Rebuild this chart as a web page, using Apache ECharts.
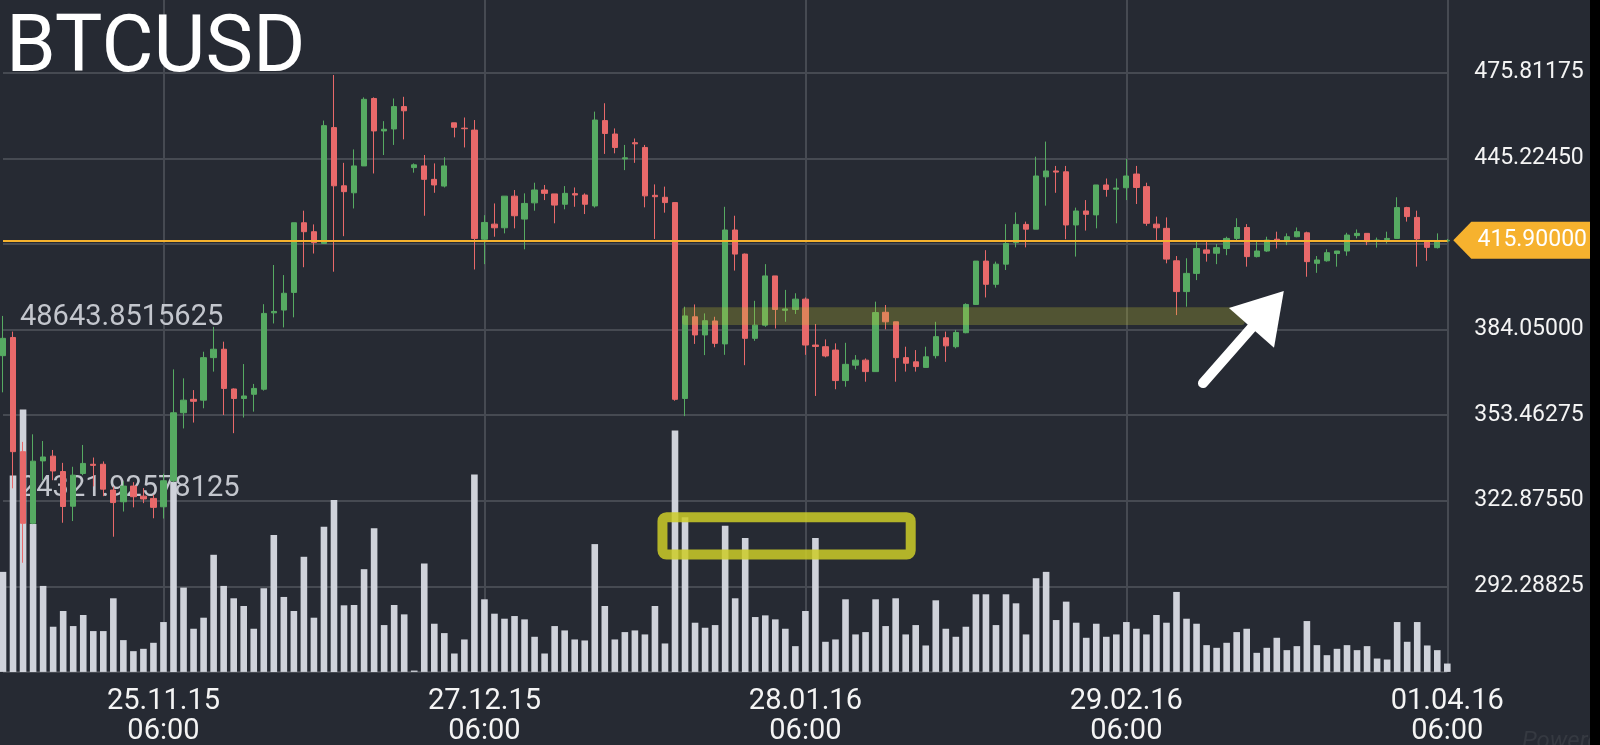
<!DOCTYPE html>
<html><head><meta charset="utf-8">
<script src="https://cdn.jsdelivr.net/npm/echarts@6/dist/echarts.min.js"></script>
<style>html,body{margin:0;padding:0;background:#262a33;}#c{width:1600px;height:745px;}</style>
</head><body><div id="c"></div>
<script>
const categories = [
'09.11.15','10.11.15','11.11.15','12.11.15','13.11.15','14.11.15','15.11.15','16.11.15','17.11.15','18.11.15','19.11.15','20.11.15','21.11.15','22.11.15','23.11.15','24.11.15','25.11.15','26.11.15','27.11.15','28.11.15','29.11.15','30.11.15',
'01.12.15','02.12.15','03.12.15','04.12.15','05.12.15','06.12.15','07.12.15','08.12.15','09.12.15','10.12.15','11.12.15','12.12.15','13.12.15','14.12.15','15.12.15','16.12.15','17.12.15','18.12.15','19.12.15','20.12.15','21.12.15','22.12.15','23.12.15','24.12.15','25.12.15','26.12.15','27.12.15','28.12.15','29.12.15','30.12.15','31.12.15',
'01.01.16','02.01.16','03.01.16','04.01.16','05.01.16','06.01.16','07.01.16','08.01.16','09.01.16','10.01.16','11.01.16','12.01.16','13.01.16','14.01.16','15.01.16','16.01.16','17.01.16','18.01.16','19.01.16','20.01.16','21.01.16','22.01.16','23.01.16','24.01.16','25.01.16','26.01.16','27.01.16','28.01.16','29.01.16','30.01.16','31.01.16',
'01.02.16','02.02.16','03.02.16','04.02.16','05.02.16','06.02.16','07.02.16','08.02.16','09.02.16','10.02.16','11.02.16','12.02.16','13.02.16','14.02.16','15.02.16','16.02.16','17.02.16','18.02.16','19.02.16','20.02.16','21.02.16','22.02.16','23.02.16','24.02.16','25.02.16','26.02.16','27.02.16','28.02.16','29.02.16',
'01.03.16','02.03.16','03.03.16','04.03.16','05.03.16','06.03.16','07.03.16','08.03.16','09.03.16','10.03.16','11.03.16','12.03.16','13.03.16','14.03.16','15.03.16','16.03.16','17.03.16','18.03.16','19.03.16','20.03.16','21.03.16','22.03.16','23.03.16','24.03.16','25.03.16','26.03.16','27.03.16','28.03.16','29.03.16','30.03.16','31.03.16',
'01.04.16'];
const tickDates = ['25.11.15','27.12.15','28.01.16','29.02.16','01.04.16'];
const tickTime = '06:00';

const open = [374.7,381.2,340.4,314.8,337.1,338.8,333.3,320.9,332.6,335.9,
335.9,326.7,322.5,328.1,324.5,323.7,320.7,330.0,354.3,359.1,
358.8,374.0,377.0,362.8,359.4,360.9,362.7,390.0,391.0,397.3,
422.2,419.0,414.8,456.2,435.4,432.9,442.5,466.6,455.0,455.7,
463.7,441.9,442.5,437.7,435.3,457.9,456.0,455.3,416.3,421.7,
420.4,431.7,423.5,429.3,433.9,432.5,428.8,432.6,432.1,428.2,
458.7,453.9,445.0,450.8,449.1,432.0,431.3,429.4,359.4,388.6,
382.1,387.1,378.9,419.6,411.0,380.9,385.6,403.2,390.9,391.2,
394.9,378.5,377.9,376.7,365.8,371.3,373.1,369.0,390.2,386.8,
374.0,372.5,370.5,374.7,381.1,377.9,382.9,393.0,408.5,400.2,
407.4,415.1,421.6,419.9,438.6,440.7,440.4,421.4,426.4,425.0,
435.7,434.2,434.7,439.6,435.1,421.7,420.2,408.6,397.6,404.1,
412.5,411.3,413.0,416.6,420.5,410.1,412.1,416.3,415.4,417.2,
418.6,407.7,408.6,411.2,412.1,417.6,418.4,415.6,416.2,416.6,
427.6,424.1,415.8,413.3,415.7];
const close = [380.9,340.4,314.8,337.0,338.5,333.5,320.8,332.0,336.2,335.5,
327.0,322.2,328.1,324.3,323.5,320.5,330.0,354.3,358.8,358.4,
374.0,377.0,363.0,359.4,360.3,363.0,389.8,390.5,397.0,422.2,
419.0,415.1,456.9,435.4,433.3,442.5,466.3,455.0,455.6,463.7,
462.2,442.9,437.7,435.7,442.5,456.3,455.8,416.6,422.3,420.4,
431.7,424.7,429.1,433.9,432.7,428.5,432.7,432.1,428.8,458.9,
454.1,449.1,445.4,450.4,431.8,431.5,429.4,359.1,388.9,382.1,
387.2,379.1,419.6,411.0,380.9,385.6,403.2,391.2,391.4,394.9,
378.5,378.0,374.6,365.8,371.6,373.1,369.0,390.1,386.8,374.0,
372.0,370.8,374.3,381.5,378.2,383.0,393.0,408.5,400.2,407.4,
414.8,421.6,419.9,438.9,440.7,440.3,421.4,426.4,425.2,435.7,
434.1,434.6,438.9,434.8,422.0,420.4,409.2,397.6,404.1,413.0,
411.3,413.3,416.6,420.5,410.1,412.1,416.0,415.8,417.2,419.0,
408.3,408.9,411.5,412.1,417.8,418.4,415.4,416.0,416.6,427.6,
424.4,416.4,413.4,415.7,415.9];
const low = [361.6,327.3,300.7,314.5,330.2,330.2,315.0,315.6,332.0,328.0,
324.5,310.0,319.0,320.5,322.0,316.6,316.5,329.5,348.7,350.8,
355.9,369.0,353.5,347.0,352.6,354.7,362.2,386.2,384.8,388.4,
406.3,411.2,414.6,404.7,417.4,427.3,442.5,439.8,446.4,450.0,
452.0,440.1,424.7,432.9,434.8,452.7,449.1,405.5,407.4,417.2,
418.4,420.2,412.7,426.5,430.3,422.0,427.0,427.9,425.3,427.6,
446.8,447.0,441.0,443.6,427.7,416.4,425.8,358.6,353.1,378.9,
374.9,377.7,375.0,405.1,371.3,380.0,385.0,384.4,386.8,389.6,
375.0,360.3,374.1,362.7,363.6,369.8,365.4,369.0,384.1,365.4,
369.0,369.0,370.5,373.7,372.5,377.3,382.7,392.8,395.5,399.0,
405.3,413.4,413.4,419.9,428.3,432.9,416.3,410.1,419.4,420.2,
431.5,422.0,430.3,428.9,421.1,416.0,407.7,389.2,392.2,401.7,
408.3,407.4,410.6,416.0,406.5,409.8,411.8,413.0,414.2,417.0,
402.9,404.3,408.3,406.5,410.4,416.6,414.2,413.3,414.8,416.6,
422.6,406.5,408.6,413.0,415.2];
const high = [388.9,383.3,343.9,346.6,344.2,341.0,336.4,335.0,342.8,338.3,
336.9,327.9,329.7,329.5,327.4,325.0,332.5,369.8,366.6,362.4,
376.1,385.0,379.7,363.0,371.7,364.6,393.1,407.1,403.5,422.2,
426.5,421.6,458.7,475.0,443.6,448.4,467.0,467.0,458.5,466.6,
467.2,443.4,446.4,443.4,445.6,457.9,459.8,458.9,424.9,429.1,
431.7,433.9,432.7,436.5,435.7,432.5,435.3,434.8,432.7,461.9,
464.9,455.9,450.0,452.3,450.0,435.9,435.1,429.4,392.2,393.0,
389.8,388.6,427.9,424.7,411.2,394.3,407.4,403.2,398.2,397.0,
395.5,386.0,380.5,379.1,379.3,374.9,373.7,394.0,392.8,386.8,
377.9,376.7,377.9,386.8,383.3,383.9,393.4,408.5,412.4,408.3,
421.7,425.9,422.6,445.8,451.2,442.5,442.5,427.6,430.3,435.7,
438.0,438.0,445.0,442.5,436.5,424.4,424.1,410.3,409.5,415.4,
415.4,414.6,417.2,423.8,421.7,415.4,417.2,419.0,418.4,420.5,
419.0,410.3,412.7,412.1,418.6,419.8,418.4,416.9,419.0,431.3,
427.9,426.5,416.0,418.4,416.4];
const volume = [14212,27900,37263,21000,12215,6417,8650,6512,8080,5799,
5799,10457,4515,2947,3280,4135,7082,27000,11978,6131,
7700,16639,12215,10457,9364,6131,11883,19448,10647,8650,
16354,7700,20636,24439,9459,9507,14592,20398,6654,9507,
8175,190,15400,6844,5513,2614,4610,28043,10314,8270,
7557,7937,7462,4990,2614,6512,5894,4610,4468,18157,
9364,4610,5656,5894,5324,9364,4040,34311,21959,6987,
6274,6654,20778,10457,19011,7795,8032,7462,6131,3660,
8650,19011,4278,4610,10314,5324,5656,10314,6512,10457,
5324,6654,3755,10171,6131,4990,6417,11027,11027,6654,
11027,9744,5324,13308,14212,7367,9982,6987,4848,6844,
4990,5324,7082,6131,5324,8080,6987,11360,7557,6844,
3802,3422,4135,5656,6131,2709,3422,4848,3090,3660,
7224,3802,2376,3280,3802,3090,3660,1901,1759,7082,
4278,7082,3755,3090,1188];

const lastPrice = 415.9;
const priceStep = 30.58725;
const priceMin = 261.701;
const priceMax = priceMin + 8 * priceStep;
const volStep = 24321.92578125;
const volMax = 4 * volStep;
const volLabels = ['24321.92578125', '48643.8515625'];

// annotations, anchored in data coordinates (category index, value)
const band = { from: 67.7, to: 123.8, low: 385.65, high: 391.97 };
const box = { from: 65.75, to: 90.5, low: 16670, high: 21975 };
const arrowTail = [119.64, 364.9];
const arrowTip = [127.7, 397.8];

const GREEN = '#56aa62', RED = '#e8696a', GRID = '#464a52', BG = '#262a33';
const FONT = 'Roboto';

const chart = echarts.init(document.getElementById('c'), null, { renderer: 'canvas' });
const isTick = (i, v) => tickDates.indexOf(v) >= 0;

chart.setOption({
  backgroundColor: BG,
  animation: false,
  grid: { left: 3, top: -12.9, width: 1444.3, height: 684.8, containLabel: false, outerBoundsMode: 'none' },
  xAxis: {
    type: 'category', data: categories, boundaryGap: false,
    axisLine: { show: false }, axisTick: { show: false },
    axisLabel: {
      interval: isTick, formatter: v => v + '\n' + tickTime,
      color: '#f4f4f4', fontSize: 29, lineHeight: 30, margin: 15, fontFamily: FONT
    },
    splitLine: { show: true, interval: isTick, lineStyle: { color: GRID, width: 2 } }
  },
  yAxis: [
    {
      type: 'value', position: 'right', min: priceMin, max: priceMax, interval: priceStep,
      axisLine: { show: false }, axisTick: { show: false },
      axisLabel: {
        formatter: v => v.toFixed(5), color: '#f4f4f4', fontSize: 23, margin: 27,
        fontFamily: FONT, showMinLabel: false, showMaxLabel: false
      },
      splitLine: { show: true, lineStyle: { color: GRID, width: 2 } }
    },
    {
      type: 'value', position: 'left', min: 0, max: volMax, interval: volStep,
      axisLine: { show: false }, axisTick: { show: false }, splitLine: { show: false },
      axisLabel: {
        inside: true, margin: 17, verticalAlign: 'bottom', lineHeight: 24,
        formatter: v => { const m = volLabels.find(s => Math.abs(parseFloat(s) - v) < 1e-3); return m || ''; },
        color: '#c3c6cd', fontSize: 29, fontFamily: FONT, showMinLabel: false, showMaxLabel: false
      }
    }
  ],
  series: [
    {
      type: 'bar', name: 'Volume', xAxisIndex: 0, yAxisIndex: 1, data: volume,
      barWidth: 6.6, clip: false, itemStyle: { color: '#cfd2da' }, silent: true
    },
    {
      type: 'candlestick', name: 'BTCUSD', xAxisIndex: 0, yAxisIndex: 0, clip: false,
      data: categories.map((d, i) => [open[i], close[i], low[i], high[i]]),
      barWidth: 5.8,
      itemStyle: { color: GREEN, color0: RED, borderColor: GREEN, borderColor0: RED, borderWidth: 1 },
      markLine: {
        silent: true, symbol: ['none', 'none'], label: { show: false },
        lineStyle: { color: '#f5b22e', width: 2, type: 'solid' },
        data: [{ yAxis: lastPrice }]
      }
    }
  ]
});

// helpers converting data to pixels through the chart's own axes
const n = categories.length;
const xa = chart.convertToPixel({ xAxisIndex: 0 }, categories[0]);
const xb = chart.convertToPixel({ xAxisIndex: 0 }, categories[n - 1]);
const xAt = f => xa + (xb - xa) * f / (n - 1);
const yP = v => chart.convertToPixel({ yAxisIndex: 0 }, v);
const yV = v => chart.convertToPixel({ yAxisIndex: 1 }, v);

const T = [xAt(arrowTail[0]), yP(arrowTail[1])];
const P = [xAt(arrowTip[0]), yP(arrowTip[1])];
const dx = P[0] - T[0], dy = P[1] - T[1], L = Math.hypot(dx, dy);
const ux = dx / L, uy = dy / L, nx = -uy, ny = ux;
const headLen = 49, headHalf = 30;
const B = [P[0] - ux * headLen, P[1] - uy * headLen];

const y0 = yP(lastPrice);
const tipX = xb + 6;

chart.setOption({
  graphic: [
    { type: 'text', x: 6, y: 51, z: 60, silent: true,
      style: { text: 'BTCUSD', fill: '#ffffff', font: '80px ' + FONT, align: 'left', verticalAlign: 'middle' } },
    { type: 'rect', z: 50, silent: true,
      shape: { x: xAt(band.from), y: yP(band.high), width: xAt(band.to) - xAt(band.from), height: yP(band.low) - yP(band.high), r: 3 },
      style: { fill: 'rgba(200,200,50,0.27)' } },
    { type: 'rect', z: 50, silent: true,
      shape: { x: xAt(box.from), y: yV(box.high), width: xAt(box.to) - xAt(box.from), height: yV(box.low) - yV(box.high), r: 4 },
      style: { fill: 'none', stroke: 'rgba(205,205,40,0.85)', lineWidth: 10 } },
    { type: 'line', z: 52, silent: true,
      shape: { x1: T[0], y1: T[1], x2: B[0] + ux * 3, y2: B[1] + uy * 3 },
      style: { stroke: '#ffffff', lineWidth: 10, lineCap: 'round' } },
    { type: 'polygon', z: 52, silent: true,
      shape: { points: [P, [B[0] + nx * headHalf, B[1] + ny * headHalf], [B[0] - nx * headHalf, B[1] - ny * headHalf]] },
      style: { fill: '#ffffff' } },
    { type: 'rect', z: 55, silent: true, shape: { x: 1590, y: 0, width: 10, height: 745 }, style: { fill: '#000000' } },
    { type: 'polygon', z: 60, silent: true,
      shape: { points: [[tipX, y0], [tipX + 18, y0 - 18.5], [1590, y0 - 18.5], [1590, y0 + 18.5], [tipX + 18, y0 + 18.5]] },
      style: { fill: '#f6b22e' } },
    { type: 'text', x: 1587, y: y0, z: 61, silent: true,
      style: { text: lastPrice.toFixed(5), fill: '#ffffff', font: '23px ' + FONT, align: 'right', verticalAlign: 'middle' } },
    { type: 'text', x: 1522, y: 742, z: 54, silent: true,
      style: { text: 'Powered by', fill: '#353941', font: 'italic 24px ' + FONT, align: 'left', verticalAlign: 'middle' } }
  ]
});
</script>
</body></html>
